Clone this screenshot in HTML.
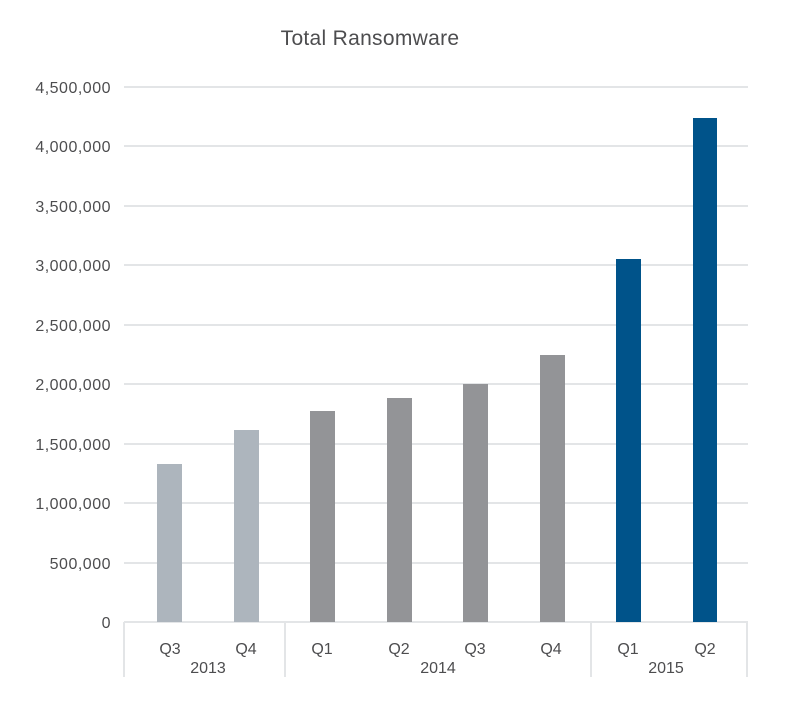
<!DOCTYPE html>
<html><head><meta charset="utf-8"><style>
body{margin:0;background:#fff;}
svg text{font-family:"Liberation Sans",sans-serif;fill:#4d4d4f;}
</style></head><body>
<svg width="800" height="708" xmlns="http://www.w3.org/2000/svg">
<text x="370" y="45" font-size="21" text-anchor="middle" fill="#58595b" letter-spacing="0.3">Total Ransomware</text>
<g stroke="#e3e5e7" stroke-width="2">
<line x1="124" y1="87" x2="748" y2="87"/>
<line x1="124" y1="146" x2="748" y2="146"/>
<line x1="124" y1="206" x2="748" y2="206"/>
<line x1="124" y1="265" x2="748" y2="265"/>
<line x1="124" y1="325" x2="748" y2="325"/>
<line x1="124" y1="384" x2="748" y2="384"/>
<line x1="124" y1="444" x2="748" y2="444"/>
<line x1="124" y1="503" x2="748" y2="503"/>
<line x1="124" y1="563" x2="748" y2="563"/>
<line x1="124" y1="622" x2="748" y2="622"/>
<line x1="124" y1="622" x2="124" y2="677"/>
<line x1="285" y1="622" x2="285" y2="677"/>
<line x1="591" y1="622" x2="591" y2="677"/>
<line x1="747" y1="622" x2="747" y2="677"/>
</g>
<g font-size="16" text-anchor="end" letter-spacing="0.5">
<text x="111" y="93">4,500,000</text>
<text x="111" y="152">4,000,000</text>
<text x="111" y="212">3,500,000</text>
<text x="111" y="271">3,000,000</text>
<text x="111" y="331">2,500,000</text>
<text x="111" y="390">2,000,000</text>
<text x="111" y="450">1,500,000</text>
<text x="111" y="509">1,000,000</text>
<text x="111" y="569">500,000</text>
<text x="111" y="628">0</text>
</g>
<rect x="157" y="464" width="25" height="158" fill="#adb5bd"/>
<rect x="234" y="430" width="25" height="192" fill="#adb5bd"/>
<rect x="310" y="411" width="25" height="211" fill="#939497"/>
<rect x="387" y="398" width="25" height="224" fill="#939497"/>
<rect x="463" y="384" width="25" height="238" fill="#939497"/>
<rect x="540" y="355" width="25" height="267" fill="#939497"/>
<rect x="616" y="259" width="25" height="363" fill="#00538a"/>
<rect x="693" y="118" width="24" height="504" fill="#00538a"/>
<g font-size="16" text-anchor="middle">
<text x="170" y="654">Q3</text>
<text x="246" y="654">Q4</text>
<text x="322" y="654">Q1</text>
<text x="399" y="654">Q2</text>
<text x="475" y="654">Q3</text>
<text x="551" y="654">Q4</text>
<text x="628" y="654">Q1</text>
<text x="705" y="654">Q2</text>
<text x="208" y="673">2013</text>
<text x="438" y="673">2014</text>
<text x="666" y="673">2015</text>
</g>
</svg>
</body></html>
